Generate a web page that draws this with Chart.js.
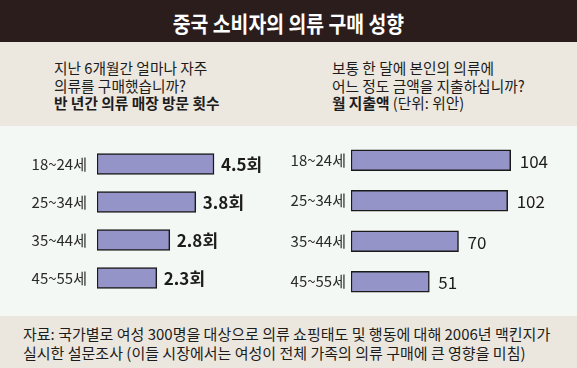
<!DOCTYPE html>
<html>
<head>
<meta charset="utf-8">
<script src="https://cdn.jsdelivr.net/npm/chart.js@4"></script>
<style>
    body { margin: 0; }
    #wrap { position: relative; width: 577px; height: 368px; overflow: hidden; font-family: 'Noto Sans CJK KR', sans-serif; color: #1c1c1c; }
    .band { position: absolute; left: 0; width: 577px; }
    #head { top: 0; height: 42px; background: #2a1d1b; }
    #sub { top: 42px; height: 84px; background: #ece8df; }
    #plot { top: 126px; height: 190px; background: #f4f8f5; }
    #foot { top: 316px; height: 52px; background: #ebe7de; }
    #title { position: absolute; top: 9px; left: 0; width: 577px; text-align: center; line-height: 26px; }
    #title span { display: inline-block; color: #fff; font-weight: bold; font-size: 22px; transform: scaleX(0.88); }
    .txt { position: absolute; font-size: 15px; line-height: 17.5px; white-space: nowrap; transform-origin: left top; }
    .txt b { font-weight: bold; }
    #q1, #q2 { top: 59px; transform: scaleX(0.98); }
    #q1 { left: 54px; }
    #q2 { left: 332px; }
    #src { left: 23px; top: 324px; line-height: 19px; }
    canvas { position: absolute; top: 126px; }
    #leftChart { left: 0; }
    #rightChart { left: 290px; }
</style>
</head>
<body>
<div id="wrap">
    <div class="band" id="head"></div>
    <div class="band" id="sub"></div>
    <div class="band" id="plot"></div>
    <div class="band" id="foot"></div>
    <div id="title"><span>중국 소비자의 의류 구매 성향</span></div>
    <div class="txt" id="q1">지난 6개월간 얼마나 자주<br>의류를 구매했습니까?<br><b>반 년간 의류 매장 방문 횟수</b></div>
    <div class="txt" id="q2">보통 한 달에 본인의 의류에<br>어느 정도 금액을 지출하십니까?<br><b>월 지출액</b> (단위: 위안)</div>
    <div class="txt" id="src">자료: 국가별로 여성 300명을 대상으로 의류 쇼핑태도 및 행동에 대해 2006년 맥킨지가<br>실시한 설문조사 (이들 시장에서는 여성이 전체 가족의 의류 구매에 큰 영향을 미침)</div>
    <canvas id="leftChart" width="290" height="190"></canvas>
    <canvas id="rightChart" width="287" height="190"></canvas>
</div>
<script>
// data
const ageGroups = ['18~24세', '25~34세', '35~44세', '45~55세'];
const storeVisits = [4.5, 3.8, 2.8, 2.3];     // 반 년간 방문 횟수
const monthlySpend = [104, 102, 70, 51];      // 월 지출액 (위안)
const visitSuffix = '회';
const spendSuffix = '';

const FONT = "'Noto Sans CJK KR', sans-serif";
const BAR_FILL = '#9494c8';

// value text at the end of every bar
const endLabels = {
    id: 'endLabels',
    afterDatasetsDraw(chart, args, opts) {
        const ctx = chart.ctx;
        const ds = chart.data.datasets[0];
        ctx.save();
        ctx.font = opts.font;
        ctx.fillStyle = '#1c1c1c';
        ctx.textBaseline = 'middle';
        chart.getDatasetMeta(0).data.forEach(function (bar, i) {
            ctx.fillText(ds.data[i] + opts.suffix, bar.x + opts.offset, bar.y + 1);
        });
        ctx.restore();
    }
};

function makeChart(el, values, cfg) {
    return new Chart(el, {
        type: 'bar',
        data: {
            labels: ageGroups,
            datasets: [{
                data: values,
                backgroundColor: BAR_FILL,
                borderColor: '#1a1a1a',
                borderWidth: 1.5,
                borderSkipped: false,
                barThickness: 21
            }]
        },
        options: {
            indexAxis: 'y',
            responsive: false,
            animation: false,
            layout: { padding: cfg.padding },
            plugins: {
                legend: { display: false },
                tooltip: { enabled: false },
                endLabels: cfg.labels
            },
            scales: {
                x: { display: false, min: 0, max: cfg.max },
                y: {
                    grid: { display: false, drawTicks: false },
                    border: { display: false },
                    ticks: {
                        color: '#2a2a2a',
                        padding: cfg.tickPad,
                        font: { family: FONT, size: 15 }
                    },
                    afterFit: function (scale) { scale.width = cfg.axisWidth; }
                }
            }
        },
        plugins: [endLabels]
    });
}

makeChart(document.getElementById('leftChart'), storeVisits, {
    max: 7,
    axisWidth: 97,
    tickPad: 10,
    padding: { left: 0, right: 11, top: 7, bottom: 13 },
    labels: { font: 'bold 17px ' + FONT, suffix: visitSuffix, offset: 7 }
});

makeChart(document.getElementById('rightChart'), monthlySpend, {
    max: 140,
    axisWidth: 61,
    tickPad: 5,
    padding: { left: 0, right: 11, top: 5, bottom: 14 },
    labels: { font: '17px ' + FONT, suffix: spendSuffix, offset: 9 }
});
</script>
</body>
</html>
